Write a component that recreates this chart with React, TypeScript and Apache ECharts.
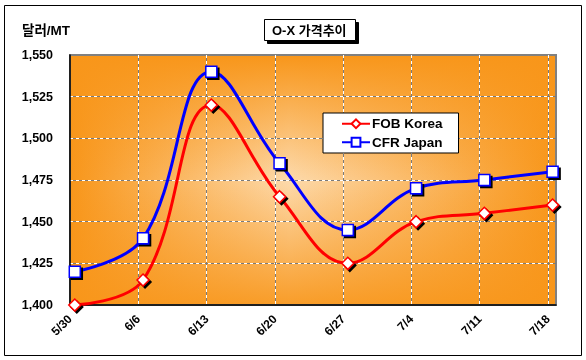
import React, { useEffect, useRef } from "react";
import * as echarts from "echarts";

const categories = ["5/30", "6/6", "6/13", "6/20", "6/27", "7/4", "7/11", "7/18"];
const fobKorea = [1400, 1415, 1520, 1465, 1425, 1450, 1455, 1460];
const cfrJapan = [1420, 1440, 1540, 1485, 1445, 1470, 1475, 1480];
const yTicks = { min: 1400, max: 1550, interval: 25 };
const titleText = "O-X 가격추이";
const unitText = "달러/MT";

const FONT = "'Liberation Sans', Arial, 'Noto Sans CJK KR', sans-serif";
const ORANGE = "#F8961A";
const LIGHT = "#FDDAAC";

const G = { left: 70, top: 55, width: 486, height: 250 };

export default function App() {
  const ref = useRef<HTMLDivElement>(null);
  useEffect(() => {
    document.body.style.margin = "0";
    const chart = echarts.init(ref.current!, null, { renderer: "svg" });
    const xMax = 7.12;
    const dataXShift = 0.07;
    const mk = (name: string, vals: number[], color: string, symbol: string, size: number) => ({
      name,
      type: "line",
      xAxisIndex: 2,
      yAxisIndex: 0,
      data: vals.map((v, i) => [i, v]),
      smooth: 0.4,
      symbol,
      symbolSize: size,
      showAllSymbol: true,
      z: 5,
      lineStyle: { color, width: 3 },
      itemStyle: {
        color: "#ffffff",
        borderColor: color,
        borderWidth: 1.5,
        shadowColor: "#000",
        shadowOffsetX: 2,
        shadowOffsetY: 2,
        shadowBlur: 0,
      },
    });
    chart.setOption({
      animation: false,
      textStyle: { fontFamily: FONT },
      title: {
        text: titleText,
        left: 264,
        top: 19,
        padding: [5, 9, 4, 8],
        backgroundColor: "#fff",
        borderColor: "#000",
        borderWidth: 1,
        shadowColor: "#000",
        shadowOffsetX: 3,
        shadowOffsetY: 3,
        shadowBlur: 0,
        textStyle: { fontFamily: FONT, fontSize: 13, fontWeight: "bold", color: "#000" },
      },
      legend: {
        orient: "vertical",
        left: 323,
        top: 113,
        padding: [4, 16, 4, 18],
        itemGap: 5,
        itemWidth: 28,
        itemHeight: 11,
        backgroundColor: "#fff",
        borderColor: "#000",
        borderWidth: 1,
        textStyle: { fontFamily: FONT, fontSize: 13.5, fontWeight: "bold", color: "#000", padding: [0, 0, 0, -3] },
        data: ["FOB Korea", "CFR Japan"],
      },
      grid: {
        left: G.left,
        top: G.top,
        width: G.width,
        height: G.height,
        show: true,
        backgroundColor: "transparent",
        borderColor: "#808080",
        borderWidth: 2,
      },
      xAxis: [
        {
          type: "value",
          min: 0,
          max: xMax,
          interval: 1,
          axisLine: { show: true, onZero: false, lineStyle: { color: "#000", width: 1.5 } },
          axisTick: { show: false },
          axisLabel: {
            rotate: 45,
            margin: 12,
            fontFamily: FONT,
            fontSize: 12,
            fontWeight: "bold",
            color: "#000",
            formatter: (v: number) => categories[Math.round(v)] !== undefined && Math.abs(v - Math.round(v)) < 1e-6 ? categories[Math.round(v)] : "",
          },
          splitLine: { show: true, showMinLine: false, showMaxLine: false, lineStyle: { color: "#7a7a7a", width: 1 } },
        },
        {
          type: "value",
          min: 0,
          max: xMax,
          interval: 1,
          axisLine: { show: false },
          axisTick: { show: false },
          axisLabel: { show: false },
          splitLine: { show: true, showMinLine: false, showMaxLine: false, lineStyle: { color: "#ffffff", width: 1, type: [3, 3] } },
        },
        {
          type: "value",
          show: false,
          min: -dataXShift,
          max: xMax - dataXShift,
          splitLine: { show: false },
        },
      ],
      yAxis: [
        {
          type: "value",
          ...yTicks,
          axisLine: { show: true, lineStyle: { color: "#000", width: 1.5 } },
          axisTick: { show: false },
          axisLabel: {
            margin: 17,
            fontFamily: FONT,
            fontSize: 12.5,
            fontWeight: "bold",
            color: "#000",
            formatter: (v: number) => v.toLocaleString("en-US"),
          },
          splitLine: { show: true, showMinLine: false, showMaxLine: false, lineStyle: { color: "#7a7a7a", width: 1 } },
        },
        {
          type: "value",
          ...yTicks,
          position: "left",
          axisLine: { show: false },
          axisTick: { show: false },
          axisLabel: { show: false },
          splitLine: { show: true, showMinLine: false, showMaxLine: false, lineStyle: { color: "#ffffff", width: 1, type: [3, 3] } },
        },
      ],
      graphic: [
        {
          type: "rect",
          z: -2,
          silent: true,
          shape: { x: G.left, y: G.top, width: G.width, height: G.height },
          style: {
            fill: new echarts.graphic.LinearGradient(0, 0, 1, 0, [
              { offset: 0, color: ORANGE },
              { offset: 0.45, color: LIGHT },
              { offset: 1, color: ORANGE },
            ]),
          },
        },
        {
          type: "rect",
          z: -1,
          silent: true,
          shape: { x: G.left, y: G.top, width: G.width, height: G.height },
          style: {
            fill: new echarts.graphic.LinearGradient(0, 0, 0, 1, [
              { offset: 0, color: "rgba(248,150,26,1)" },
              { offset: 0.5, color: "rgba(248,150,26,0)" },
              { offset: 1, color: "rgba(248,150,26,0.9)" },
            ]),
          },
        },
        {
          type: "rect",
          z: -3,
          silent: true,
          shape: { x: 4.5, y: 5.5, width: 577, height: 350 },
          style: { fill: "#fff", stroke: "#000", lineWidth: 1 },
        },
        {
          type: "text",
          x: 22,
          y: 24,
          style: { text: unitText, fontFamily: FONT, fontSize: 13.5, fontWeight: "bold", fill: "#000" },
        },
      ],
      series: [
        mk("FOB Korea", fobKorea, "#FF0000", "diamond", 12),
        mk("CFR Japan", cfrJapan, "#0000FF", "rect", 11),
      ],
    });
    return () => chart.dispose();
  }, []);
  return <div ref={ref} style={{ position: "fixed", left: 0, top: 0, width: 586, height: 360 }} />;
}
